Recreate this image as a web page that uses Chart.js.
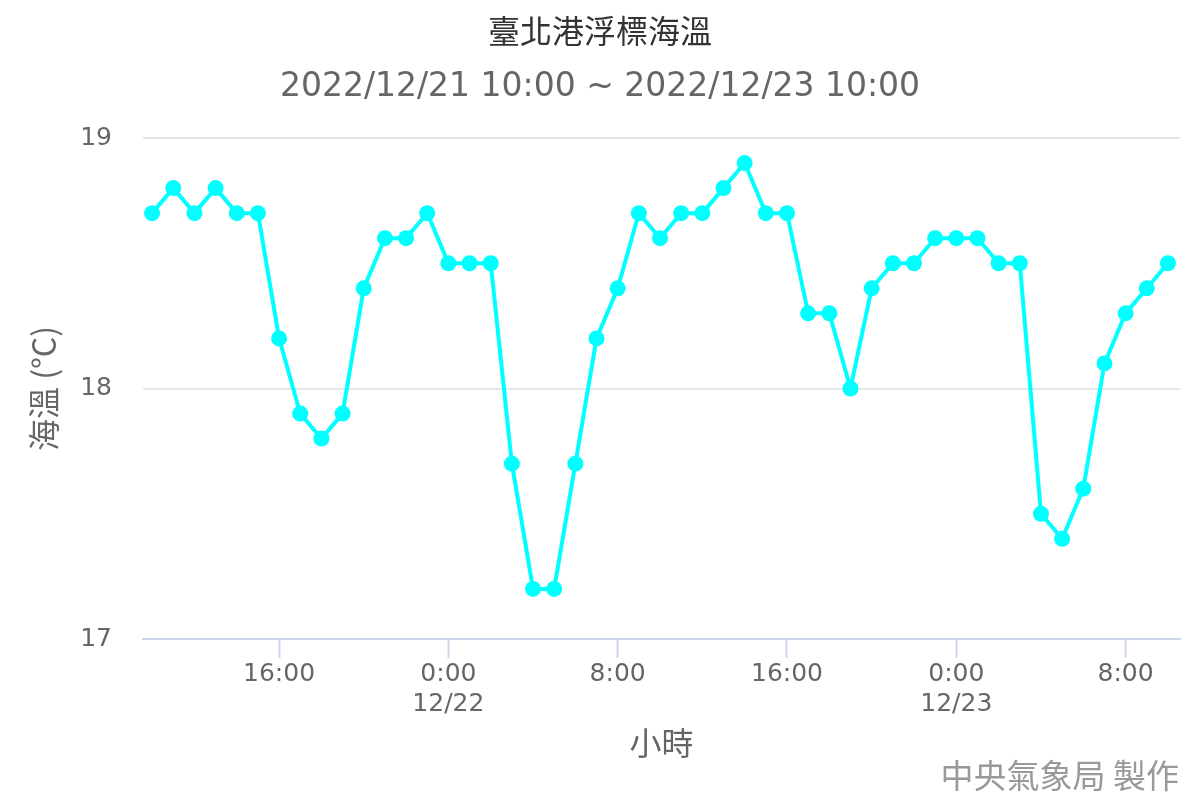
<!DOCTYPE html>
<html>
<head>
<meta charset="utf-8">
<title>臺北港浮標海溫</title>
<script src="https://cdn.jsdelivr.net/npm/chart.js@4"></script>
<style>
    html, body { margin: 0; padding: 0; background: #ffffff; }
    #seaTempChart { display: block; }
</style>
</head>
<body>
<canvas id="seaTempChart" width="1200" height="800"></canvas>
<script>
// Hourly sea temperature, 2022/12/21 10:00 -> 2022/12/23 10:00 (index = hours since start)
const seaTemp = [
    18.7, 18.8, 18.7, 18.8, 18.7, 18.7, 18.2, 17.9, 17.8, 17.9, 18.4, 18.6, 18.6, 18.7,
    18.5, 18.5, 18.5, 17.7, 17.2, 17.2, 17.7, 18.2, 18.4, 18.7, 18.6, 18.7, 18.7, 18.8,
    18.9, 18.7, 18.7, 18.3, 18.3, 18.0, 18.4, 18.5, 18.5, 18.6, 18.6, 18.6, 18.5, 18.5,
    17.5, 17.4, 17.6, 18.1, 18.3, 18.4, 18.5
];

// x-axis ticks (hours since start) and their labels
const xTickHours = [6, 14, 22, 30, 38, 46];
const xTickLabels = [['16:00'], ['0:00', '12/22'], ['8:00'], ['16:00'], ['0:00', '12/23'], ['8:00']];

// y-axis ticks
const yTicks = [17, 18, 19];

const latinFont = "'DejaVu Sans', 'Noto Sans CJK TC', sans-serif";
const cjkFont = "'Noto Sans CJK TC', 'DejaVu Sans', sans-serif";

// Credits text in the bottom right corner
const creditsPlugin = {
    id: 'credits',
    afterDraw: function(chart) {
        const ctx = chart.ctx;
        ctx.save();
        ctx.font = '33px ' + cjkFont;
        ctx.fillStyle = '#999999';
        ctx.textAlign = 'right';
        ctx.textBaseline = 'middle';
        ctx.fillText('中央氣象局 製作', 1179, 775);
        ctx.restore();
    }
};

document.addEventListener('DOMContentLoaded', function() {
    const ctx = document.getElementById('seaTempChart').getContext('2d');

    new Chart(ctx, {
        type: 'line',
        data: {
            datasets: [{
                label: '海溫',
                data: seaTemp.map((v, i) => ({ x: i, y: v })),
                borderColor: '#00ffff',
                backgroundColor: '#00ffff',
                borderWidth: 4,
                pointRadius: 8,
                pointBorderWidth: 0,
                pointBackgroundColor: '#00ffff',
                tension: 0,
                fill: false
            }]
        },
        options: {
            responsive: false,
            devicePixelRatio: 1,
            animation: false,
            layout: {
                padding: { left: 20, right: 20, top: 0, bottom: 0 }
            },
            plugins: {
                legend: { display: false },
                tooltip: { enabled: false },
                title: {
                    display: true,
                    text: '臺北港浮標海溫',
                    color: '#333333',
                    font: { family: cjkFont, size: 32, weight: 'normal' },
                    padding: { top: 12, bottom: 0 }
                },
                subtitle: {
                    display: true,
                    text: '2022/12/21 10:00 ~ 2022/12/23 10:00',
                    color: '#666666',
                    font: { family: latinFont, size: 33, weight: 'normal' },
                    padding: { top: 17, bottom: 31 }
                }
            },
            scales: {
                x: {
                    type: 'linear',
                    min: -0.43,
                    max: 48.57,
                    border: { display: true, color: '#ccd6eb', width: 2 },
                    grid: {
                        display: true,
                        drawOnChartArea: false,
                        drawTicks: true,
                        tickLength: 19,
                        tickColor: '#ccd6eb',
                        tickWidth: 2
                    },
                    afterBuildTicks: function(scale) {
                        scale.ticks = xTickHours.map(h => ({ value: h }));
                    },
                    afterFit: function(scale) {
                        scale.height = 161;
                    },
                    ticks: {
                        color: '#666666',
                        font: { family: latinFont, size: 25 },
                        padding: 1,
                        maxRotation: 0,
                        autoSkip: false,
                        callback: function(value) {
                            const idx = xTickHours.indexOf(value);
                            return idx >= 0 ? xTickLabels[idx] : '';
                        }
                    },
                    title: {
                        display: true,
                        text: '小時',
                        color: '#666666',
                        font: { family: cjkFont, size: 32 },
                        padding: { top: 0, bottom: 38 }
                    }
                },
                y: {
                    min: 17,
                    max: 19,
                    border: { display: false },
                    grid: {
                        color: function(context) {
                            return context.tick && context.tick.value === 17 ? 'rgba(0,0,0,0)' : '#e6e6e6';
                        },
                        lineWidth: 2,
                        drawTicks: false
                    },
                    afterBuildTicks: function(scale) {
                        scale.ticks = yTicks.map(v => ({ value: v }));
                    },
                    afterFit: function(scale) {
                        scale.width = 123;
                    },
                    ticks: {
                        color: '#666666',
                        font: { family: latinFont, size: 25 },
                        padding: 31
                    },
                    title: {
                        display: true,
                        text: '海溫 (°C)',
                        color: '#666666',
                        font: { family: cjkFont, size: 32 },
                        padding: { top: 5, bottom: 0 }
                    }
                }
            }
        },
        plugins: [creditsPlugin]
    });
});
</script>
</body>
</html>
